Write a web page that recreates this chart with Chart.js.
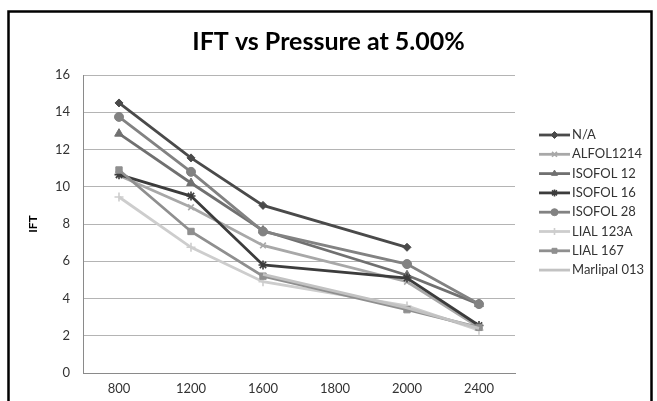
<!DOCTYPE html>
<html>
<head>
<meta charset="utf-8">
<script src="https://cdn.jsdelivr.net/npm/chart.js@4/dist/chart.umd.min.js"></script>
<style>
html,body{margin:0;padding:0;background:#fff;}
#wrap{width:657px;height:401px;position:relative;}
</style>
</head>
<body>
<div id="wrap"><canvas id="c" width="657" height="401"></canvas></div>
<script>
const categories = ["800", "1200", "1600", "1800", "2000", "2400"];
const seriesNames = ["N/A", "ALFOL1214", "ISOFOL 12", "ISOFOL 16", "ISOFOL 28", "LIAL 123A", "LIAL 167", "Marlipal 013"];
const naValues       = [14.5, 11.55, 9.0, null, 6.75, null];
const alfol1214      = [10.6, 8.9, 6.85, null, 4.9, 2.45];
const isofol12       = [12.85, 10.2, 7.65, null, 5.25, 3.7];
const isofol16       = [10.65, 9.5, 5.8, null, 5.1, 2.55];
const isofol28       = [13.75, 10.8, 7.6, null, 5.85, 3.7];
const lial123a       = [9.45, 6.75, 4.9, null, 3.6, 2.3];
const lial167        = [10.9, 7.6, 5.2, null, 3.4, 2.45];
const marlipal013    = [null, null, 5.3, null, 3.5, 2.4];
const yTicks = [0, 2, 4, 6, 8, 10, 12, 14, 16];

const FONT = "Lato, 'Liberation Sans', sans-serif";

const styles = [
  {color:'#4a4a4a', ps:'rectRot', r:4},
  {color:'#a8a8a8', ps:'crossRot', r:4},
  {color:'#707070', ps:'triangle', r:5},
  {color:'#3c3c3c', ps:'star', r:4.5},
  {color:'#828282', ps:'circle', r:4.5},
  {color:'#cdcdcd', ps:'cross', r:4.5},
  {color:'#8f8f8f', ps:'rect', r:4.5},
  {color:'#c2c2c2', ps:'circle', r:0}
];
const allData = [naValues, alfol1214, isofol12, isofol16, isofol28, lial123a, lial167, marlipal013];

const datasets = seriesNames.map((name, i) => ({
  label: name,
  data: allData[i],
  borderColor: styles[i].color,
  backgroundColor: styles[i].color,
  borderWidth: 2.8,
  pointStyle: styles[i].ps,
  pointRadius: styles[i].r,
  pointBorderWidth: styles[i].ps === 'crossRot' || styles[i].ps === 'cross' || styles[i].ps === 'star' ? 1.6 : 1,
  spanGaps: true,
  tension: 0,
  order: seriesNames.length - i
}));

const framePlugin = {
  id: 'frame',
  beforeDraw(chart) {
    const ctx = chart.ctx;
    ctx.save();
    ctx.fillStyle = '#fff';
    ctx.fillRect(0, 0, chart.width, chart.height);
    ctx.strokeStyle = '#000';
    ctx.lineWidth = 2.5;
    ctx.strokeRect(8.5, 11.5, 643, 420);
    ctx.restore();
  }
};

const legendPlugin = {
  id: 'customLegend',
  afterDraw(chart) {
    const ctx = chart.ctx;
    ctx.save();
    const x0 = 539, x1 = 570, tx = 572;
    const yStart = 135, step = 19.3;
    chart.data.datasets.forEach((ds, i) => {
      const y = yStart + i * step;
      ctx.strokeStyle = ds.borderColor;
      ctx.lineWidth = 2.8;
      ctx.beginPath();
      ctx.moveTo(x0, y);
      ctx.lineTo(x1, y);
      ctx.stroke();
      if (ds.pointRadius > 0) {
        ctx.fillStyle = ds.backgroundColor;
        ctx.strokeStyle = ds.borderColor;
        ctx.lineWidth = ds.pointBorderWidth;
        Chart.helpers.drawPoint(ctx, {pointStyle: ds.pointStyle, radius: Math.min(ds.pointRadius, 3.5), borderWidth: ds.pointBorderWidth, rotation: 0}, (x0 + x1) / 2, y);
      }
      ctx.fillStyle = '#333';
      ctx.font = '13px ' + FONT;
      ctx.textBaseline = 'middle';
      ctx.textAlign = 'left';
      ctx.fillText(ds.label, tx, y);
    });
    ctx.restore();
  }
};

new Chart(document.getElementById('c'), {
  type: 'line',
  data: { labels: categories, datasets: datasets },
  plugins: [framePlugin, legendPlugin],
  options: {
    responsive: false,
    animation: false,
    layout: { padding: { left: 8, right: 8, top: 12, bottom: 0 } },
    plugins: {
      legend: { display: false },
      tooltip: { enabled: false },
      title: {
        display: true,
        text: 'IFT vs Pressure at 5.00%',
        color: '#000',
        font: { family: FONT, size: 25, weight: 'bold', lineHeight: 1.2 },
        padding: { top: 15, bottom: 18 }
      }
    },
    scales: {
      x: {
        type: 'category',
        offset: true,
        grid: { display: false, drawTicks: false },
        border: { display: true, color: '#8a8a8a', width: 1 },
        ticks: { color: '#333', font: { family: FONT, size: 13 }, padding: 8, maxRotation: 0, autoSkip: false },
        afterFit(s) { s.height = 28; }
      },
      y: {
        min: 0, max: 16,
        afterBuildTicks(s) { s.ticks = yTicks.map(v => ({ value: v })); },
        grid: { color: '#b4b4b4', lineWidth: 1, drawTicks: false },
        border: { display: true, color: '#8a8a8a', width: 1 },
        ticks: { color: '#333', font: { family: FONT, size: 13 }, padding: 13 },
        title: { display: true, text: 'IFT', color: '#000', font: { family: FONT, size: 12, weight: 'bold' }, padding: { top: 18, bottom: 0 } },
        afterFit(s) { s.width = 75; }
      },
      yR: {
        position: 'right',
        display: true,
        grid: { display: false, drawTicks: false },
        border: { display: false },
        ticks: { display: false },
        afterFit(s) { s.width = 134; }
      }
    }
  }
});
</script>
</body>
</html>
